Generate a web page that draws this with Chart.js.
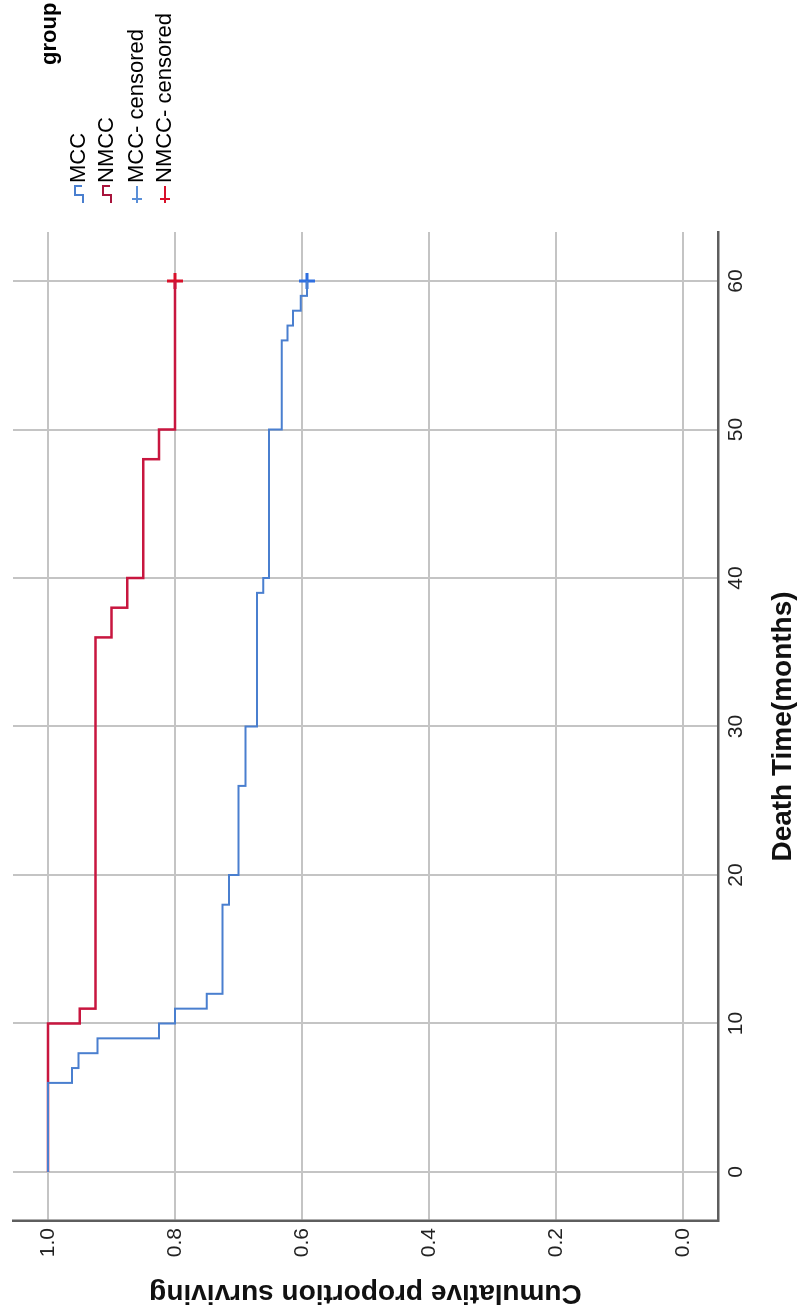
<!DOCTYPE html>
<html>
<head>
<meta charset="utf-8">
<script src="https://cdn.jsdelivr.net/npm/chart.js@4.4.1/dist/chart.umd.min.js"></script>
<style>
  html, body { margin: 0; padding: 0; background: #ffffff; overflow: hidden; }
  #frame {
    position: absolute; left: 0; top: 0;
    width: 1313px; height: 807px;
    transform-origin: 0 0;
    transform: translateY(1313px) rotate(-90deg);
  }
</style>
</head>
<body>
<div id="frame"><canvas id="km" width="1313" height="807"></canvas></div>
<script>
// Kaplan-Meier survival by group (time in months)
const timeTicks = [0, 10, 20, 30, 40, 50, 60];
const survivalTicks = [0.0, 0.2, 0.4, 0.6, 0.8, 1.0];

const mccTimes = [0, 6, 7, 8, 9, 10, 11, 12, 18, 20, 26, 30, 39, 40, 50, 56, 57, 58, 59, 60];
const mccSurvival = [1.0, 0.962, 0.952, 0.922, 0.825, 0.800, 0.750, 0.725, 0.715, 0.700, 0.689, 0.671, 0.661, 0.652, 0.632, 0.623, 0.614, 0.602, 0.592, 0.592];

const nmccTimes = [0, 10, 11, 36, 38, 40, 48, 50, 60];
const nmccSurvival = [1.0, 0.950, 0.925, 0.900, 0.875, 0.850, 0.825, 0.800, 0.800];

const mccCensoredTimes = [60];
const mccCensoredSurvival = [0.592];
const nmccCensoredTimes = [60];
const nmccCensoredSurvival = [0.800];

const groupLabels = ['MCC', 'NMCC', 'MCC- censored', 'NMCC- censored'];

const MCC_LINE = '#4a7fcf';
const NMCC_LINE = '#c8163f';
const MCC_CROSS = '#2f6fe0';
const NMCC_CROSS = '#d8102a';
const FONT = '"Liberation Sans", Arial, sans-serif';

const toPoints = (xs, ys) => xs.map((x, i) => ({ x: x, y: ys[i] }));

// legend on the right of the plot, with small step / cross glyphs
const groupLegend = {
  id: 'groupLegend',
  afterDraw(chart) {
    const ctx = chart.ctx;
    ctx.save();
    ctx.textBaseline = 'middle';
    ctx.textAlign = 'left';
    ctx.fillStyle = '#000';
    ctx.font = 'bold 22px ' + FONT;
    ctx.fillText('group', 1248, 50);

    const x0 = 1110, x1 = 1127, tx = 1130;
    const rows = [79, 107, 137, 165];
    const colors = [MCC_LINE, '#a8143c', '#5a8fd8', NMCC_CROSS];
    ctx.lineWidth = 2;
    rows.forEach((y, i) => {
      ctx.strokeStyle = colors[i];
      ctx.beginPath();
      if (i < 2) {
        ctx.moveTo(x0, y + 4);
        ctx.lineTo(x0 + 8, y + 4);
        ctx.lineTo(x0 + 8, y - 4);
        ctx.lineTo(x1, y - 4);
        ctx.lineTo(x1, y + 3);
      } else {
        ctx.moveTo(x0, y);
        ctx.lineTo(x1, y);
        ctx.moveTo(x0 + 4, y - 5);
        ctx.lineTo(x0 + 4, y + 5);
      }
      ctx.stroke();
      ctx.fillStyle = '#000';
      ctx.font = '22px ' + FONT;
      ctx.fillText(groupLabels[i], tx, y);
    });
    ctx.restore();
  }
};

new Chart(document.getElementById('km'), {
  type: 'line',
  data: {
    datasets: [
      {
        label: groupLabels[0],
        data: toPoints(mccTimes, mccSurvival),
        borderColor: MCC_LINE,
        borderWidth: 2,
        stepped: 'before',
        pointRadius: 0,
        fill: false
      },
      {
        label: groupLabels[1],
        data: toPoints(nmccTimes, nmccSurvival),
        borderColor: NMCC_LINE,
        borderWidth: 2.5,
        stepped: 'before',
        pointRadius: 0,
        fill: false
      },
      {
        label: groupLabels[2],
        type: 'scatter',
        data: toPoints(mccCensoredTimes, mccCensoredSurvival),
        pointStyle: 'cross',
        pointRadius: 8,
        pointBorderWidth: 3,
        borderColor: MCC_CROSS,
        backgroundColor: MCC_CROSS,
        showLine: false
      },
      {
        label: groupLabels[3],
        type: 'scatter',
        data: toPoints(nmccCensoredTimes, nmccCensoredSurvival),
        pointStyle: 'cross',
        pointRadius: 8,
        pointBorderWidth: 3,
        borderColor: NMCC_CROSS,
        backgroundColor: NMCC_CROSS,
        showLine: false
      }
    ]
  },
  options: {
    responsive: false,
    animation: false,
    devicePixelRatio: 1,
    layout: { padding: { left: 0, top: 13, right: 232, bottom: 0 } },
    plugins: { legend: { display: false }, tooltip: { enabled: false } },
    scales: {
      x: {
        type: 'linear',
        min: -3.3,
        max: 63.3,
        afterBuildTicks: (axis) => { axis.ticks = timeTicks.map(v => ({ value: v })); },
        afterFit: (axis) => {
          axis.height = 89;
          axis.paddingLeft = 0;
          axis.paddingRight = 0;
        },
        ticks: {
          includeBounds: false,
          padding: 6,
          color: '#222',
          font: { family: FONT, size: 21 },
          maxRotation: 0
        },
        grid: { color: '#c4c4c4', lineWidth: 2, drawTicks: false },
        border: { display: true, color: '#5e5e5e', width: 2.5 },
        title: {
          display: true,
          text: 'Death Time(months)',
          color: '#111',
          font: { family: FONT, size: 28, weight: 'bold' },
          padding: { top: 0, bottom: 7 }
        }
      },
      y: {
        type: 'linear',
        min: -0.055,
        max: 1.055,
        afterBuildTicks: (axis) => { axis.ticks = survivalTicks.map(v => ({ value: v })); },
        afterFit: (axis) => {
          axis.width = 92;
          axis.paddingTop = 0;
          axis.paddingBottom = 0;
        },
        ticks: {
          includeBounds: false,
          padding: 7,
          color: '#222',
          font: { family: FONT, size: 21 },
          callback: (v) => Number(v).toFixed(1)
        },
        grid: { color: '#c4c4c4', lineWidth: 2, drawTicks: false },
        border: { display: true, color: '#5e5e5e', width: 2.5 },
        title: {
          display: true,
          text: 'Cumulative proportion surviving',
          color: '#111',
          font: { family: FONT, size: 28, weight: 'bold' },
          padding: { top: 3, bottom: 0 }
        }
      }
    }
  },
  plugins: [groupLegend]
});
</script>
</body>
</html>
